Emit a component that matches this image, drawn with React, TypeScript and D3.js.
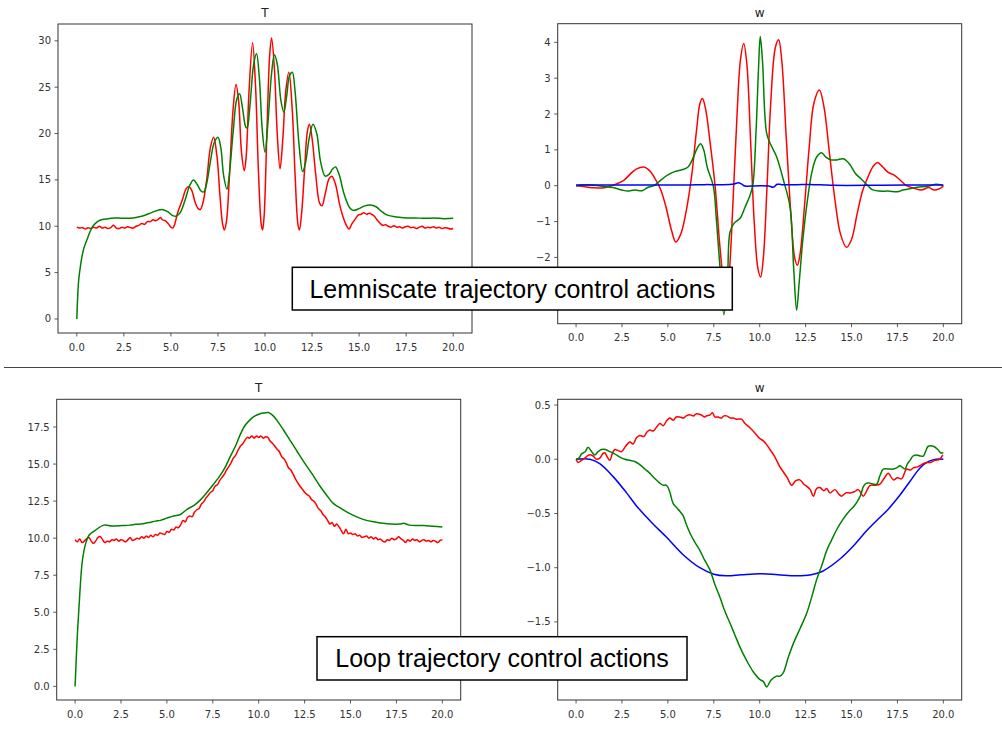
import React from "react";
import * as d3 from "d3";

type P = [number, number];

// ---------- Lemniscate trajectory: T ----------
const lemTRed: P[] = [
  [0,9.9],[0.15,9.8],[0.3,9.85],[0.45,9.7],[0.6,9.85],[0.75,9.75],[0.9,9.9],[1.05,9.8],[1.2,10.0],[1.35,9.8],[1.5,9.9],[1.65,9.75],[1.8,9.85],[1.95,10.1],[2.1,9.8],[2.25,9.75],[2.4,9.9],[2.55,9.8],[2.7,9.95],[2.85,9.85],[3.0,9.8],[3.15,10.0],[3.3,10.1],[3.45,10.3],[3.6,10.2],[3.75,10.5],[3.9,10.5],[4.05,10.7],[4.2,10.6],[4.35,10.8],[4.45,10.95],[4.55,10.7],[4.7,10.6],[4.85,10.3],[5.0,9.9],[5.1,9.8],[5.2,10.2],
  [5.35,11.4],[5.6,12.8],[5.8,14.0],[5.94,14.3],[6.1,13.9],[6.3,12.5],[6.45,11.9],[6.56,11.8],[6.7,12.5],[6.9,15],[7.1,18.5],[7.27,19.6],[7.45,17.5],[7.6,13.5],[7.75,10.2],[7.84,9.6],[7.95,10.5],[8.1,15],[8.3,22.5],[8.46,25.3],[8.6,23.5],[8.75,18],[8.9,16],[9.0,17.5],[9.15,24.5],[9.34,29.8],[9.5,25],[9.65,16],[9.8,10.2],[9.87,9.6],[9.95,11],[10.1,20],[10.25,28.5],[10.35,30.3],[10.5,27],[10.65,20],[10.8,16.2],[10.95,19.5],[11.1,24.5],[11.27,26.6],[11.45,22.5],[11.6,15.5],[11.75,10.2],[11.83,9.6],[11.95,11.5],[12.1,16],[12.25,20.2],[12.36,21],[12.5,19.5],[12.7,15.5],[12.9,12.5],[13.03,12.2],[13.2,13.5],[13.4,15.1],[13.55,15.4],[13.75,14.5],[13.95,12.5],[14.15,11],[14.35,10],[14.47,9.7],[14.6,10.2],[14.8,10.8],[14.95,11.2],[15.1,11.3],[15.25,11.45],[15.4,11.3],[15.55,11.4],[15.7,11.25],[15.8,11.1],[15.95,10.7],
  [16.1,10.35],[16.25,10.1],[16.4,10.15],[16.55,10.0],[16.7,9.9],[16.85,10.05],[17.0,9.9],[17.15,9.95],[17.3,9.8],[17.45,9.95],[17.6,10.0],[17.75,9.85],[17.9,9.9],[18.05,9.75],[18.2,9.9],[18.35,10.0],[18.5,9.8],[18.65,9.9],[18.8,9.85],[18.95,9.95],[19.1,9.8],[19.25,9.9],[19.4,9.75],[19.55,9.85],[19.7,9.8],[19.85,9.7],[20,9.75],
];
const lemTGreen: P[] = [
  [0,0],[0.05,2.6],[0.1,4.2],[0.2,5.8],[0.3,7.0],[0.4,7.8],[0.55,8.6],[0.7,9.4],[0.85,10.0],[1.08,10.48],[1.3,10.7],[1.8,10.85],[2.0,10.9],[2.5,10.85],[3.0,10.9],[3.5,11.1],[4.0,11.5],[4.5,11.8],[4.8,11.6],[5.1,11.15],[5.3,11.1],[5.5,11.5],[5.75,12.8],[6.0,14.4],[6.2,15.0],[6.4,14.5],[6.6,13.8],[6.75,13.7],[6.9,14.6],[7.1,17],[7.3,19],[7.5,19.6],[7.65,18.5],[7.8,15.5],[7.98,14],[8.1,15.5],[8.3,20],[8.5,23.7],[8.65,24.3],[8.8,22.8],[8.98,20.7],[9.05,20.6],[9.2,23],[9.4,27.5],[9.55,28.6],[9.7,26],[9.85,20.5],[10.0,18],[10.15,21],[10.35,26.5],[10.5,28.5],[10.65,27.5],[10.85,23.5],[11.0,22.3],[11.15,24],[11.3,26.2],[11.45,26.6],[11.6,24.5],[11.8,19],[12.0,15.9],[12.15,16.8],[12.35,19.5],[12.55,21],[12.75,20],[12.95,17],[13.2,15.4],[13.4,15.6],[13.6,16.2],[13.75,16.4],[13.95,15.5],[14.2,13.5],[14.5,12.0],[14.7,11.7],[15.0,11.9],[15.3,12.2],[15.6,12.3],[15.9,12.1],[16.2,11.6],[16.5,11.2],[17.0,11.0],[17.5,10.9],[18.0,10.9],[18.5,10.85],[19.0,10.9],[19.5,10.8],[20,10.85],
];

// ---------- Lemniscate trajectory: w ----------
const lemWRed: P[] = [
  [0,0],[0.5,-0.03],[1.0,-0.06],[1.5,-0.06],[1.8,-0.02],[2.2,0.05],[2.6,0.15],[3.0,0.35],[3.3,0.47],[3.7,0.52],[4.0,0.42],[4.3,0.2],[4.6,-0.1],[4.9,-0.6],[5.2,-1.25],[5.43,-1.57],[5.7,-1.35],[6.0,-0.7],[6.3,0.3],[6.55,1.5],[6.75,2.3],[6.88,2.43],[7.05,2.15],[7.3,1.2],[7.57,0],[7.8,-1.5],[7.98,-2.5],[8.17,-3.3],[8.35,-2.4],[8.55,-0.4],[8.75,1.8],[8.95,3.5],[9.13,3.97],[9.3,3.4],[9.5,1.3],[9.7,-1.0],[9.9,-2.3],[10.05,-2.55],[10.2,-2.0],[10.4,0],[10.6,2.3],[10.85,3.85],[11.03,4.07],[11.2,3.5],[11.45,1.3],[11.7,-0.8],[11.9,-2.0],[12.05,-2.22],[12.2,-1.9],[12.45,-0.5],[12.7,1.1],[12.95,2.3],[13.25,2.67],[13.5,2.2],[13.8,0.9],[14.1,-0.4],[14.4,-1.35],[14.73,-1.72],[15.0,-1.5],[15.3,-0.8],[15.6,-0.15],[15.9,0.25],[16.15,0.52],[16.42,0.65],[16.7,0.52],[17.0,0.37],[17.3,0.3],[17.6,0.18],[18.0,0.0],[18.4,-0.07],[18.8,-0.12],[19.2,-0.05],[19.5,-0.12],[19.8,-0.08],[20,-0.02],
];
const lemWGreen: P[] = [
  [0,0],[0.5,0.03],[1.0,0.01],[1.5,-0.02],[2.0,-0.05],[2.5,-0.12],[2.8,-0.15],[3.2,-0.12],[3.6,-0.14],[3.9,-0.05],[4.3,0.02],[4.6,0.15],[5.0,0.3],[5.4,0.4],[5.8,0.45],[6.1,0.52],[6.35,0.75],[6.6,1.05],[6.78,1.17],[6.95,1.0],[7.15,0.5],[7.47,0],[7.65,-1.0],[7.84,-2.3],[8.05,-3.6],[8.25,-2.5],[8.38,-1.3],[8.6,-1.05],[8.93,-0.91],[9.2,-0.6],[9.45,-0.3],[9.62,0],[9.8,1.5],[9.93,3.2],[10.03,4.16],[10.15,3.5],[10.38,1.46],[10.6,1.15],[10.92,0.81],[11.29,0.16],[11.65,-0.59],[11.85,-2.3],[12.01,-3.47],[12.15,-2.7],[12.35,-1.5],[12.6,-0.4],[12.85,0.4],[13.1,0.8],[13.37,0.92],[13.6,0.8],[13.9,0.72],[14.2,0.72],[14.55,0.75],[14.9,0.6],[15.2,0.35],[15.5,0.2],[15.8,0.05],[16.1,-0.1],[16.5,-0.15],[17.0,-0.15],[17.5,-0.17],[17.8,-0.12],[18.3,-0.07],[18.8,-0.03],[19.2,-0.01],[19.6,0.04],[20,0.0],
];
const lemWBlue: P[] = [
  [0,0.02],[2,0.02],[4,0.02],[6,0.02],[7,0.03],[8,0.03],[8.6,0.05],[8.85,0.08],[9.0,0.05],[9.2,-0.01],[9.5,-0.01],[10,0.0],[10.5,-0.01],[10.75,-0.04],[10.95,0.04],[11.2,0.03],[12,0.03],[13,0.03],[13.5,0.02],[14,0.01],[16,0.01],[18,0.02],[19.5,0.02],[20,0.02],
];

// ---------- Loop trajectory: T ----------
const loopTRed: P[] = [
  [0,9.9],[0.12,9.75],[0.25,9.95],[0.38,9.7],[0.5,9.8],[0.62,9.95],[0.75,10.05],[0.88,9.8],[1.0,9.65],[1.12,9.8],[1.25,10.05],[1.38,10.1],[1.5,9.9],[1.62,9.7],[1.75,9.8],[1.88,9.75],[2.0,9.9],[2.12,9.85],[2.25,9.95],[2.38,9.8],[2.5,9.9],[2.62,9.85],[2.75,9.75],[2.88,9.9],[3.0,10.05],[3.12,9.85],[3.25,9.9],[3.38,10.0],[3.5,9.95],[3.62,10.1],[3.75,10.0],[3.88,10.15],[4.0,10.05],[4.12,10.2],[4.25,10.1],[4.38,10.25],[4.5,10.2],[4.62,10.35],[4.75,10.3],[4.88,10.25],[5.0,10.45],[5.12,10.4],[5.25,10.6],[5.38,10.55],[5.5,10.75],[5.62,10.7],[5.75,10.9],[5.88,11.2],[6.0,11.1],[6.12,11.4],[6.25,11.5],[6.38,11.45],[6.5,11.75],[6.62,11.9],[6.75,12.0],[6.88,12.3],[7.0,12.45],[7.12,12.7],[7.25,12.9],[7.38,13.1],[7.5,13.2],[7.62,13.5],[7.75,13.6],[7.88,13.9],[8.0,14.1],[8.12,14.3],[8.25,14.6],[8.38,14.85],[8.5,15.1],[8.62,15.4],[8.75,15.6],[8.88,15.95],[9.0,16.2],[9.12,16.35],[9.25,16.6],[9.38,16.8],[9.5,16.75],[9.62,16.9],[9.75,16.75],[9.88,16.9],[10.0,16.8],[10.12,16.9],[10.25,16.75],[10.38,16.85],[10.5,16.8],[10.62,16.55],[10.75,16.4],[10.88,16.2],[11.0,16.0],[11.12,15.85],[11.25,15.5],[11.38,15.35],[11.5,15.1],[11.62,14.75],[11.75,14.6],[11.88,14.3],[12.0,14.0],[12.12,13.75],[12.25,13.5],[12.38,13.3],[12.5,13.1],[12.62,12.95],[12.75,12.85],[12.88,12.6],[13.0,12.5],[13.12,12.3],[13.25,12.0],[13.38,11.85],[13.5,11.6],[13.62,11.45],[13.75,11.2],[13.88,10.95],[14.0,11.05],[14.12,10.8],[14.25,10.95],[14.38,10.75],[14.5,10.5],[14.62,10.3],[14.75,10.6],[14.88,10.3],[15.0,10.35],[15.12,10.25],[15.25,10.3],[15.38,10.15],[15.5,10.2],[15.62,10.05],[15.75,10.1],[15.88,10.15],[16.0,10.0],[16.12,10.1],[16.25,9.95],[16.38,10.05],[16.5,9.9],[16.62,9.95],[16.75,9.8],[16.88,9.75],[17.0,9.9],[17.12,9.85],[17.25,10.0],[17.38,9.9],[17.5,9.95],[17.62,10.1],[17.75,9.95],[17.88,9.85],[18.0,9.7],[18.12,9.9],[18.25,9.8],[18.38,9.95],[18.5,9.85],[18.62,9.9],[18.75,9.75],[18.88,9.85],[19.0,9.9],[19.12,9.8],[19.25,9.85],[19.38,9.75],[19.5,9.85],[19.62,9.8],[19.75,9.7],[19.88,9.85],[20,9.9],
];
const loopTGreen: P[] = [
  [0,0],[0.13,3.6],[0.26,6.3],[0.4,8.5],[0.58,9.65],[0.76,10.2],[1.12,10.55],[1.57,10.88],[2.0,10.82],[2.57,10.85],[3.0,10.88],[3.3,10.94],[3.57,10.95],[4.0,11.05],[4.38,11.15],[4.65,11.2],[5.0,11.35],[5.37,11.5],[5.74,11.6],[6.1,11.95],[6.46,12.2],[6.8,12.55],[7.19,13.1],[7.55,13.65],[7.91,14.25],[8.2,14.85],[8.45,15.5],[8.75,16.25],[9.0,17.0],[9.25,17.6],[9.54,18.0],[9.8,18.25],[10.08,18.4],[10.3,18.45],[10.53,18.48],[10.75,18.3],[10.99,17.95],[11.35,17.3],[11.71,16.6],[12.07,15.9],[12.43,15.2],[12.9,14.35],[13.34,13.5],[13.7,12.9],[14.06,12.35],[14.5,12.0],[14.97,11.65],[15.4,11.4],[15.87,11.2],[16.3,11.1],[16.78,11.0],[17.2,10.95],[17.68,10.95],[17.9,11.0],[18.2,10.88],[18.6,10.85],[19.0,10.85],[19.49,10.8],[20,10.75],
];

// ---------- Loop trajectory: w ----------
const loopWRed: P[] = [
  [0,0],[0.11,-0.03],[0.3,-0.01],[0.47,0.01],[0.7,0.04],[0.93,0.03],[1.1,0.0],[1.29,0.01],[1.45,0.05],[1.56,0.06],[1.7,0.02],[1.84,-0.01],[1.97,0.05],[2.11,0.09],[2.3,0.08],[2.47,0.07],[2.7,0.12],[2.93,0.16],[3.1,0.14],[3.3,0.2],[3.47,0.22],[3.7,0.21],[3.85,0.25],[4.02,0.27],[4.2,0.26],[4.4,0.3],[4.56,0.33],[4.75,0.31],[4.95,0.36],[5.11,0.38],[5.3,0.36],[5.45,0.39],[5.65,0.39],[5.85,0.38],[6.0,0.4],[6.2,0.41],[6.4,0.4],[6.56,0.42],[6.8,0.41],[7.0,0.39],[7.1,0.4],[7.3,0.41],[7.43,0.43],[7.55,0.39],[7.74,0.39],[7.9,0.38],[8.05,0.4],[8.2,0.4],[8.4,0.38],[8.56,0.38],[8.75,0.37],[9.01,0.37],[9.2,0.33],[9.47,0.29],[9.7,0.25],[10.01,0.19],[10.2,0.17],[10.4,0.13],[10.56,0.09],[10.8,0.03],[11.1,-0.07],[11.3,-0.12],[11.5,-0.17],[11.74,-0.24],[11.95,-0.2],[12.19,-0.19],[12.4,-0.23],[12.56,-0.25],[12.75,-0.28],[12.92,-0.34],[13.1,-0.27],[13.28,-0.26],[13.5,-0.29],[13.65,-0.27],[13.83,-0.31],[14.1,-0.28],[14.3,-0.32],[14.46,-0.34],[14.7,-0.31],[14.92,-0.31],[15.15,-0.3],[15.37,-0.28],[15.64,-0.34],[15.8,-0.3],[16.01,-0.24],[16.3,-0.24],[16.55,-0.23],[16.8,-0.17],[17.0,-0.13],[17.28,-0.19],[17.5,-0.17],[17.73,-0.18],[18.0,-0.09],[18.2,-0.1],[18.37,-0.08],[18.6,-0.07],[18.73,-0.06],[18.9,-0.04],[19.1,-0.03],[19.3,-0.03],[19.55,-0.01],[19.8,0.0],[19.97,0.04],
];
const loopWGreen: P[] = [
  [0,0],[0.15,0.01],[0.3,0.05],[0.5,0.07],[0.65,0.11],[0.85,0.07],[1.02,0.04],[1.2,0.07],[1.38,0.09],[1.6,0.09],[1.84,0.07],[2.1,0.05],[2.38,0.02],[2.65,0.0],[2.93,-0.01],[3.2,-0.02],[3.47,-0.05],[3.75,-0.09],[4.02,-0.13],[4.3,-0.18],[4.56,-0.22],[4.75,-0.24],[4.93,-0.24],[5.1,-0.3],[5.29,-0.41],[5.5,-0.45],[5.65,-0.48],[5.83,-0.52],[6.0,-0.6],[6.2,-0.68],[6.45,-0.76],[6.74,-0.84],[7.0,-0.93],[7.29,-1.02],[7.55,-1.15],[7.83,-1.27],[8.1,-1.4],[8.38,-1.51],[8.65,-1.62],[8.92,-1.73],[9.3,-1.86],[9.65,-1.96],[10.0,-2.03],[10.2,-2.05],[10.38,-2.1],[10.6,-2.04],[10.92,-2.0],[11.1,-2.0],[11.28,-1.97],[11.55,-1.83],[11.83,-1.7],[12.2,-1.56],[12.56,-1.42],[12.85,-1.26],[13.1,-1.11],[13.4,-0.97],[13.65,-0.84],[13.9,-0.75],[14.19,-0.65],[14.55,-0.55],[14.92,-0.47],[15.1,-0.44],[15.28,-0.4],[15.5,-0.33],[15.65,-0.25],[15.82,-0.22],[16.0,-0.22],[16.2,-0.23],[16.37,-0.23],[16.55,-0.15],[16.73,-0.09],[17.0,-0.09],[17.28,-0.09],[17.45,-0.08],[17.64,-0.06],[17.91,-0.09],[18.05,-0.04],[18.19,-0.01],[18.35,0.03],[18.55,0.04],[18.75,0.03],[18.91,0.03],[19.05,0.08],[19.18,0.12],[19.46,0.12],[19.7,0.09],[19.85,0.06],[20,0.06],
];
const loopWBlue: P[] = [
  [0,0],[0.75,0],[1.29,-0.04],[2.02,-0.16],[2.75,-0.31],[3.29,-0.43],[4.1,-0.58],[4.93,-0.72],[5.83,-0.88],[6.74,-1.0],[7.5,-1.06],[8.2,-1.075],[9.0,-1.065],[10.0,-1.055],[11.0,-1.065],[12.0,-1.075],[12.8,-1.065],[13.4,-1.035],[14.37,-0.92],[15.1,-0.8],[15.82,-0.66],[16.4,-0.56],[17.0,-0.46],[17.64,-0.33],[18.2,-0.2],[18.73,-0.08],[19.2,-0.02],[19.6,0],[20,0],
];

// ---------- ticks / labels (ticks hidden behind the caption boxes are omitted) ----------
const xTicks = [0, 2.5, 5, 7.5, 10, 12.5, 15, 17.5, 20];
const lemTTicks = [0, 5, 10, 15, 20, 25, 30];
const lemWTicks = [-2, -1, 0, 1, 2, 3, 4];
const loopTTicks = [0, 2.5, 5, 7.5, 10, 12.5, 15, 17.5];
const loopWTicks = [-1.5, -1, -0.5, 0, 0.5];
const panelTitles = ["T", "w", "T", "w"];
const captions = ["Lemniscate trajectory control actions", "Loop trajectory control actions"];

const RED = "#ff0000";
const GREEN = "#008000";
const BLUE = "#0000ff";
const TICK_FONT = "'DejaVu Sans', sans-serif";

type Series = { data: P[]; color: string };

function Panel(props: {
  left: number; right: number; top: number; bottom: number;
  yDomain: [number, number]; yTicks: number[]; yFmt: (n: number) => string;
  title: string; series: Series[];
}) {
  const { left, right, top, bottom, yDomain, yTicks, yFmt, title, series } = props;
  const x = d3.scaleLinear().domain([-1, 21]).range([left, right]);
  const y = d3.scaleLinear().domain(yDomain).range([bottom, top]);
  const line = d3.line<P>().x((d) => x(d[0])).y((d) => y(d[1])).curve(d3.curveCatmullRom.alpha(0.5));
  const xf = d3.format(".1f");
  const clipId = `clip-${Math.round(left)}-${Math.round(top)}`;
  return (
    <g>
      <defs>
        <clipPath id={clipId}>
          <rect x={left} y={top} width={right - left} height={bottom - top} />
        </clipPath>
      </defs>
      <text x={(left + right) / 2} y={top - 7} textAnchor="middle" fontFamily={TICK_FONT} fontSize={12} fill="#222">{title}</text>
      <g clipPath={`url(#${clipId})`}>
        {series.map((s, i) => (
          <path key={i} d={line(s.data) || ""} fill="none" stroke={s.color} strokeWidth={1.5} strokeLinejoin="round" />
        ))}
      </g>
      <rect x={left} y={top} width={right - left} height={bottom - top} fill="none" stroke="#333" strokeWidth={1} />
      {xTicks.map((t) => (
        <g key={"x" + t}>
          <line x1={x(t)} x2={x(t)} y1={bottom} y2={bottom + 3.5} stroke="#333" strokeWidth={0.8} />
          <text x={x(t)} y={bottom + 17.5} textAnchor="middle" fontFamily={TICK_FONT} fontSize={10} fill="#333">{xf(t)}</text>
        </g>
      ))}
      {yTicks.map((t) => (
        <g key={"y" + t}>
          <line x1={left - 3.5} x2={left} y1={y(t)} y2={y(t)} stroke="#333" strokeWidth={0.8} />
          <text x={left - 7} y={y(t)} dy="0.35em" textAnchor="end" fontFamily={TICK_FONT} fontSize={10} fill="#333">{yFmt(t)}</text>
        </g>
      ))}
    </g>
  );
}

function Caption(props: { x: number; y: number; w: number; h: number; text: string }) {
  const { x, y, w, h, text } = props;
  return (
    <g>
      <rect x={x} y={y} width={w} height={h} fill="#fff" stroke="#000" strokeWidth={1.5} />
      <text x={x + w / 2} y={y + h / 2} dy="0.36em" textAnchor="middle" fontFamily="'Liberation Sans', Arial, sans-serif" fontSize={25} fill="#000">{text}</text>
    </g>
  );
}

export default function App() {
  const fi = d3.format("d");
  const f1 = d3.format(".1f");
  return (
    <svg width={1002} height={740} style={{ position: "absolute", left: 0, top: 0, background: "#fff" }}>
      <rect x={0} y={0} width={1002} height={740} fill="#fff" />
      <Panel left={58} right={472} top={24} bottom={333} yDomain={[-1.515, 31.815]} yTicks={lemTTicks} yFmt={fi}
        title={panelTitles[0]} series={[{ data: lemTRed, color: RED }, { data: lemTGreen, color: GREEN }]} />
      <Panel left={557.7} right={961.7} top={23.7} bottom={323.7} yDomain={[-3.85, 4.52]} yTicks={lemWTicks} yFmt={fi}
        title={panelTitles[1]} series={[{ data: lemWRed, color: RED }, { data: lemWGreen, color: GREEN }, { data: lemWBlue, color: BLUE }]} />
      <Panel left={56.7} right={460.7} top={399.3} bottom={700} yDomain={[-0.92, 19.37]} yTicks={loopTTicks} yFmt={f1}
        title={panelTitles[2]} series={[{ data: loopTRed, color: RED }, { data: loopTGreen, color: GREEN }]} />
      <Panel left={557.7} right={961.7} top={399.3} bottom={700} yDomain={[-2.22, 0.553]} yTicks={loopWTicks} yFmt={f1}
        title={panelTitles[3]} series={[{ data: loopWBlue, color: BLUE }, { data: loopWRed, color: RED }, { data: loopWGreen, color: GREEN }]} />
      <line x1={4} x2={1002} y1={367.5} y2={367.5} stroke="#444" strokeWidth={1} />
      <Caption x={292.3} y={267.3} w={440} h={42.7} text={captions[0]} />
      <Caption x={317} y={636.7} w={370} h={43.3} text={captions[1]} />
    </svg>
  );
}
